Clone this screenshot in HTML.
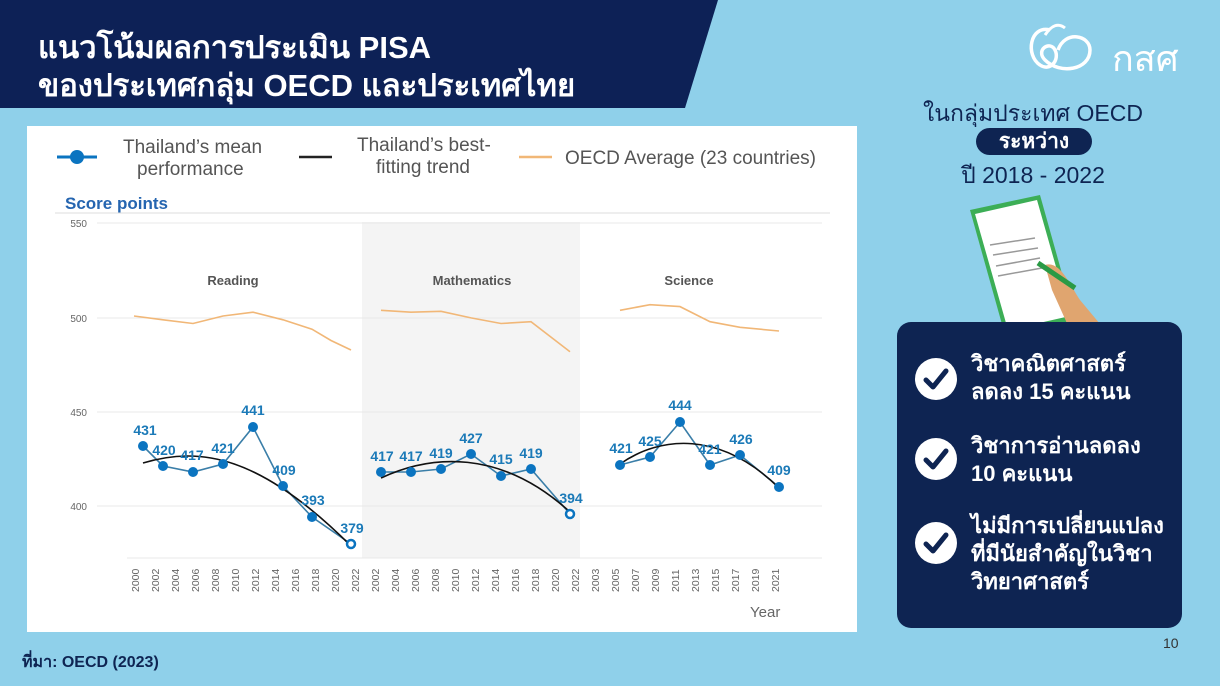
<!DOCTYPE html>
<html><head><meta charset="utf-8"><style>
body{margin:0;width:1220px;height:686px;overflow:hidden;background:#8fd0ea;font-family:"Liberation Sans","Noto Sans CJK SC",sans-serif;position:relative}
.hdr{position:absolute;left:0;top:0}
.t{position:absolute;color:#fff;font-weight:bold;font-size:31px;left:38px;white-space:nowrap;font-family:"Liberation Sans","Noto Sans CJK SC",sans-serif}
.card{position:absolute;left:27px;top:126px;width:830px;height:506px;background:#fff}
.panel{position:absolute;left:897px;top:322px;width:285px;height:306px;background:#0e2452;border-radius:14px}
.item{position:absolute;left:74px;color:#fff;font-weight:bold;font-size:22px;line-height:28px;white-space:nowrap}
.chk{position:absolute;left:18px;width:42px;height:42px;border-radius:50%;background:#fff}
.navy{color:#0e2452;white-space:nowrap}
</style></head><body>
<svg class="hdr" width="730" height="110"><polygon points="0,0 718,0 685,108 0,108" fill="#0d2156"/></svg>
<div class="t" style="top:22px">แนวโน้มผลการประเมิน PISA</div>
<div class="t" style="top:60px">ของประเทศกลุ่ม OECD และประเทศไทย</div>
<svg style="position:absolute;left:1020px;top:20px" width="80" height="60"><path d="M30,10 C10,5 5,35 20,45 C30,52 40,40 35,30 C30,20 15,30 25,40 C40,55 70,50 70,30 C70,15 45,10 38,30" stroke="#fff" stroke-width="3.5" fill="none"/><path d="M25,15 Q35,0 45,8" stroke="#fff" stroke-width="3" fill="none"/></svg>
<div style="position:absolute;left:1112px;top:30px;color:#fff;font-size:36px;font-family:'Noto Sans CJK SC',sans-serif">กสศ</div>
<div class="navy" style="position:absolute;left:900px;top:96px;width:266px;text-align:center;font-size:23px">ในกลุ่มประเทศ OECD</div>
<div style="position:absolute;left:976px;top:128px;width:116px;height:27px;border-radius:14px;background:#0e2452;color:#fff;text-align:center;font-size:21px;font-weight:bold;line-height:27px">ระหว่าง</div>
<div class="navy" style="position:absolute;left:900px;top:158px;width:266px;text-align:center;font-size:23px">ปี 2018 - 2022</div>
<svg style="position:absolute;left:960px;top:190px" width="150" height="140"><polygon points="10,20 80,5 115,130 45,145" fill="#3cae56"/><polygon points="15,24 77,10 110,126 48,140" fill="#fff"/><g stroke="#999" stroke-width="1.5"><line x1="30" y1="55" x2="75" y2="48"/><line x1="33" y1="65" x2="78" y2="58"/><line x1="36" y1="76" x2="80" y2="68"/><line x1="38" y1="86" x2="82" y2="78"/></g><path d="M85,75 C100,70 110,95 120,110 L145,140 L110,140 L92,100 Z" fill="#e0a56f"/><line x1="78" y1="73" x2="115" y2="98" stroke="#2a9a45" stroke-width="5"/></svg>
<div class="card">
<svg width="830" height="506" style="font-family:'Liberation Sans',sans-serif">
<g font-size="19" fill="#555">
<line x1="30" y1="31" x2="70" y2="31" stroke="#0b74c0" stroke-width="3"/><circle cx="50" cy="31" r="7" fill="#0b74c0"/>
<text x="96" y="27">Thailand’s mean</text><text x="110" y="49">performance</text>
<line x1="272" y1="31" x2="305" y2="31" stroke="#222" stroke-width="2.5"/>
<text x="330" y="25">Thailand’s best-</text><text x="349" y="47">fitting trend</text>
<line x1="492" y1="31" x2="525" y2="31" stroke="#f1b777" stroke-width="2.5"/>
<text x="538" y="38">OECD Average (23 countries)</text>
</g>
<text x="38" y="83" font-size="17" font-weight="bold" fill="#2565b0">Score points</text>
<line x1="28" y1="87" x2="803" y2="87" stroke="#ddd"/>
<rect x="335" y="96" width="218" height="336" fill="#f4f4f4"/>
<g stroke="#e8e8e8"><line x1="70" y1="97" x2="795" y2="97"/><line x1="70" y1="192" x2="795" y2="192"/><line x1="70" y1="286" x2="795" y2="286"/><line x1="70" y1="380" x2="795" y2="380"/><line x1="100" y1="432" x2="795" y2="432"/></g>
<g font-size="10" fill="#666" text-anchor="end"><text x="60" y="101">550</text><text x="60" y="196">500</text><text x="60" y="290">450</text><text x="60" y="384">400</text></g>
<g font-size="13" font-weight="bold" fill="#555" text-anchor="middle"><text x="206" y="159">Reading</text><text x="445" y="159">Mathematics</text><text x="662" y="159">Science</text></g>
<g transform="translate(-27,-126)">
<g fill="none" stroke="#f1b777" stroke-width="1.6">
<polyline points="134,316 163,319.8 193,323.5 223,316 253,312.2 283,319.8 312,329.2 331,340.5 351,350"/>
<polyline points="381,310.3 411,312.2 441,311.3 471,317.9 501,323.5 531,321.7 570,351.8"/>
<polyline points="620,310.3 650,304.7 680,306.6 710,321.7 740,327.3 779,331"/>
</g>
<g fill="none" stroke="#3a7ea8" stroke-width="1.6">
<polyline points="143,446 163,466 193,472 223,464 253,427 283,486 312,517 351,544"/>
<polyline points="381,472 411,472 441,469 471,454 501,476 531,469 570,514"/>
<polyline points="620,465 650,457 680,422 710,465 740,455 779,487"/>
</g>
<g fill="none" stroke="#111" stroke-width="1.6">
<path d="M143,463 C200,446 260,455 351,546"/>
<path d="M381,478 C430,455 500,448 570,512"/>
<path d="M620,464 C660,436 720,430 779,488"/>
</g>
<g fill="#0b74c0">
<circle cx="143" cy="446" r="5"/><circle cx="163" cy="466" r="5"/><circle cx="193" cy="472" r="5"/><circle cx="223" cy="464" r="5"/><circle cx="253" cy="427" r="5"/><circle cx="283" cy="486" r="5"/><circle cx="312" cy="517" r="5"/><circle cx="351" cy="544" r="4" fill="#fff" stroke="#0b74c0" stroke-width="2.5"/>
<circle cx="381" cy="472" r="5"/><circle cx="411" cy="472" r="5"/><circle cx="441" cy="469" r="5"/><circle cx="471" cy="454" r="5"/><circle cx="501" cy="476" r="5"/><circle cx="531" cy="469" r="5"/><circle cx="570" cy="514" r="4" fill="#fff" stroke="#0b74c0" stroke-width="2.5"/>
<circle cx="620" cy="465" r="5"/><circle cx="650" cy="457" r="5"/><circle cx="680" cy="422" r="5"/><circle cx="710" cy="465" r="5"/><circle cx="740" cy="455" r="5"/><circle cx="779" cy="487" r="5"/>
</g>
<g font-size="14" font-weight="bold" fill="#1b7ab8" text-anchor="middle">
<text x="145" y="435">431</text><text x="164" y="455">420</text><text x="192" y="460">417</text><text x="223" y="453">421</text><text x="253" y="415">441</text><text x="284" y="475">409</text><text x="313" y="505">393</text><text x="352" y="533">379</text>
<text x="382" y="461">417</text><text x="411" y="461">417</text><text x="441" y="458">419</text><text x="471" y="443">427</text><text x="501" y="464">415</text><text x="531" y="458">419</text><text x="571" y="503">394</text>
<text x="621" y="453">421</text><text x="650" y="446">425</text><text x="680" y="410">444</text><text x="710" y="454">421</text><text x="741" y="444">426</text><text x="779" y="475">409</text>
</g>
<g font-size="10.5" fill="#666">
<g transform="translate(139,592) rotate(-90)"><text>2000</text></g>
<g transform="translate(159,592) rotate(-90)"><text>2002</text></g>
<g transform="translate(179,592) rotate(-90)"><text>2004</text></g>
<g transform="translate(199,592) rotate(-90)"><text>2006</text></g>
<g transform="translate(219,592) rotate(-90)"><text>2008</text></g>
<g transform="translate(239,592) rotate(-90)"><text>2010</text></g>
<g transform="translate(259,592) rotate(-90)"><text>2012</text></g>
<g transform="translate(279,592) rotate(-90)"><text>2014</text></g>
<g transform="translate(299,592) rotate(-90)"><text>2016</text></g>
<g transform="translate(319,592) rotate(-90)"><text>2018</text></g>
<g transform="translate(339,592) rotate(-90)"><text>2020</text></g>
<g transform="translate(359,592) rotate(-90)"><text>2022</text></g>
<g transform="translate(379,592) rotate(-90)"><text>2002</text></g>
<g transform="translate(399,592) rotate(-90)"><text>2004</text></g>
<g transform="translate(419,592) rotate(-90)"><text>2006</text></g>
<g transform="translate(439,592) rotate(-90)"><text>2008</text></g>
<g transform="translate(459,592) rotate(-90)"><text>2010</text></g>
<g transform="translate(479,592) rotate(-90)"><text>2012</text></g>
<g transform="translate(499,592) rotate(-90)"><text>2014</text></g>
<g transform="translate(519,592) rotate(-90)"><text>2016</text></g>
<g transform="translate(539,592) rotate(-90)"><text>2018</text></g>
<g transform="translate(559,592) rotate(-90)"><text>2020</text></g>
<g transform="translate(579,592) rotate(-90)"><text>2022</text></g>
<g transform="translate(599,592) rotate(-90)"><text>2003</text></g>
<g transform="translate(619,592) rotate(-90)"><text>2005</text></g>
<g transform="translate(639,592) rotate(-90)"><text>2007</text></g>
<g transform="translate(659,592) rotate(-90)"><text>2009</text></g>
<g transform="translate(679,592) rotate(-90)"><text>2011</text></g>
<g transform="translate(699,592) rotate(-90)"><text>2013</text></g>
<g transform="translate(719,592) rotate(-90)"><text>2015</text></g>
<g transform="translate(739,592) rotate(-90)"><text>2017</text></g>
<g transform="translate(759,592) rotate(-90)"><text>2019</text></g>
<g transform="translate(779,592) rotate(-90)"><text>2021</text></g>
</g>
<text x="750" y="617" font-size="15" fill="#666">Year</text>
</g>
</svg>
</div>
<div style="position:absolute;left:22px;top:650px;color:#0e2452;font-size:16px;font-weight:bold">ที่มา: OECD (2023)</div>
<div style="position:absolute;left:1163px;top:635px;color:#333;font-size:14px">10</div>
<div class="panel">
<div class="chk" style="top:36px"></div><div class="item" style="top:28px">วิชาคณิตศาสตร์<br>ลดลง 15 คะแนน</div>
<div class="chk" style="top:116px"></div><div class="item" style="top:110px">วิชาการอ่านลดลง<br>10 คะแนน</div>
<div class="chk" style="top:200px"></div><div class="item" style="top:190px">ไม่มีการเปลี่ยนแปลง<br>ที่มีนัยสำคัญในวิชา<br>วิทยาศาสตร์</div>
<svg style="position:absolute;left:18px;top:0" width="42" height="306"><g fill="none" stroke="#0e2452" stroke-width="5" stroke-linecap="round" stroke-linejoin="round"><polyline points="11,58 18,65 31,49"/><polyline points="11,138 18,145 31,129"/><polyline points="11,222 18,229 31,213"/></g></svg>
</div>
</body></html>
